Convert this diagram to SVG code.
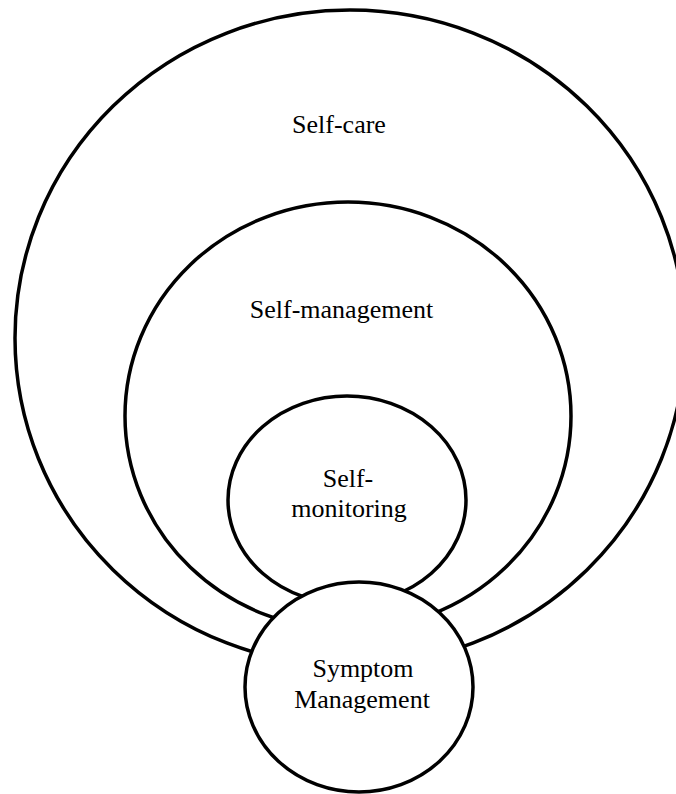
<svg xmlns="http://www.w3.org/2000/svg" width="676" height="794" viewBox="0 0 676 794">
<style>
.shape{fill:#fff;stroke:#000;stroke-width:3.5}
.lbl{font-family:"Liberation Serif","Times New Roman",serif;font-size:26px;fill:#000;text-anchor:middle}
</style>
<rect width="676" height="794" fill="#fff"/>
<g id="connectors"></g>
<g id="self-care">
<ellipse class="shape" cx="350" cy="338" rx="335" ry="328"/>
<text class="lbl" x="339" y="133">Self-care</text>
</g>
<g id="self-management">
<ellipse class="shape" cx="348" cy="416" rx="223" ry="214"/>
<text class="lbl" x="341.5" y="318">Self-management</text>
</g>
<g id="self-monitoring">
<ellipse class="shape" cx="347" cy="500" rx="119" ry="104"/>
<text class="lbl" x="348" y="487">Self-</text>
<text class="lbl" x="349" y="517">monitoring</text>
</g>
<g id="symptom-management">
<ellipse class="shape" cx="359" cy="687" rx="114" ry="105"/>
<text class="lbl" x="363" y="677">Symptom</text>
<text class="lbl" x="362" y="707.5">Management</text>
</g>
</svg>
